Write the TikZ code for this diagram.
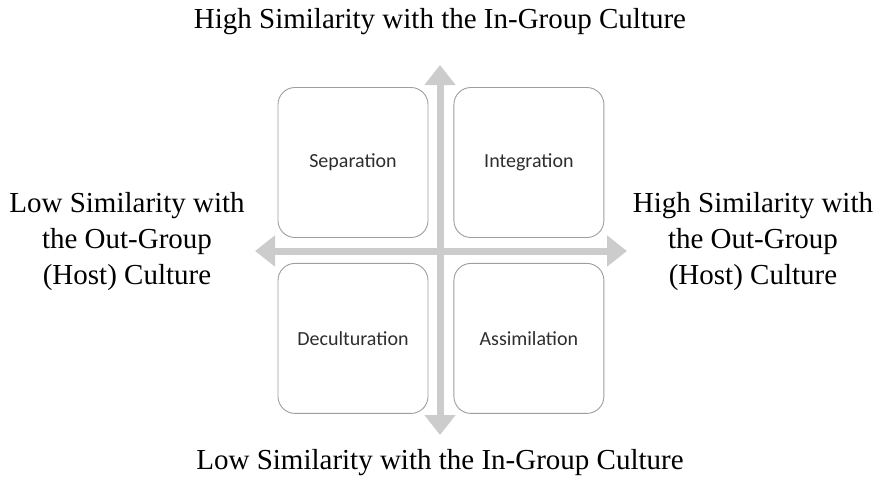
\documentclass[tikz,border=0pt]{standalone}
\usepackage{fontspec}
\setmainfont{Liberation Serif}
\newfontfamily\quadfont{Carlito}
\usetikzlibrary{arrows.meta,positioning}

\begin{document}
\begin{tikzpicture}[x=1pt,y=-1pt]
\tikzset{
  quad/.style     = {draw=black!38, fill=white, line width=0.9pt, rounded corners=17pt,
                     minimum width=150pt, minimum height=150pt, inner sep=0pt,
                     font=\quadfont\fontsize{20}{24}\selectfont, text=black!82},
  axis/.style     = {draw=black!20, line width=7pt,
                     {Triangle[length=20pt,width=30pt]}-{Triangle[length=20pt,width=30pt]}},
  axistext/.style = {font=\fontsize{29}{36}\selectfont, align=center, inner sep=0pt}
}
\useasboundingbox (0,0) rectangle (880,483);

% the four quadrants
\node[quad] (sep) at (353,162.5) {Separation};
\node[quad, right=25pt of sep] (int) {Integration};
\node[quad, below=25pt of sep] (dec) {Deculturation};
\node[quad, right=25pt of dec] (ass) {Assimilation};

% axis ends
\coordinate (top) at (440,65);
\coordinate (bot) at (440,435);
\coordinate (lft) at (255,251);
\coordinate (rgt) at (627,251);

\draw[axis] (bot) -- (top);
\draw[axis] (lft) -- (rgt);

% axis captions
\node[axistext] (hi in)  at (440,22)  {High Similarity with the In-Group Culture};
\node[axistext] (lo in)  at (440,463) {Low Similarity with the In-Group Culture};
\node[axistext] (lo out) at (127,242) {Low Similarity with\\the Out-Group\\(Host) Culture};
\node[axistext] (hi out) at (753,242) {High Similarity with\\the Out-Group\\(Host) Culture};
\end{tikzpicture}
\end{document}
